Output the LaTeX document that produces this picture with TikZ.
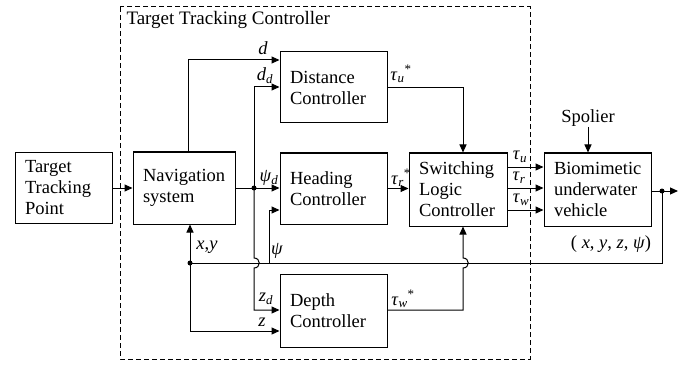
\documentclass[tikz,border=0pt]{standalone}
\usepackage{fontspec}
\setmainfont{Liberation Serif}
\usetikzlibrary{arrows.meta}
\newcommand\lsub[2]{\textit{#1}\textsubscript{\textit{#2}}}
\newcommand\lstar[2]{\textit{#1}\textsubscript{\textit{#2}}\textsuperscript{*}}
\begin{document}
\begin{tikzpicture}[x=1pt,y=-1pt,line width=1pt,
  font=\fontsize{18.5}{21}\selectfont,
  blk/.style={draw,rectangle,inner xsep=10pt,inner ysep=0pt,align=left},
  arr/.style={-{Triangle[length=8pt,width=7pt]}},
  dot/.style={circle,fill,inner sep=0pt,minimum size=5pt},
  lbl/.style={inner sep=0pt}]
\useasboundingbox (0,0) rectangle (692,366);
% frame
\draw[dashed,dash pattern=on 5pt off 3pt] (120,7) rectangle (530,359);
\node[lbl,anchor=west,font=\fontsize{19}{22}\selectfont] (title) at (126,20) {Target Tracking Controller};
% blocks
\node[blk,minimum width=97,minimum height=71,text width=77] (ttp) at (63.5,188) {Target\\Tracking\\Point};
\node[blk,minimum width=102,minimum height=72,text width=82] (nav) at (184,188) {Navigation\\system};
\node[blk,minimum width=107,minimum height=71,text width=87] (dist) at (333.5,87.5) {Distance\\Controller};
\node[blk,minimum width=107,minimum height=71,text width=87] (head) at (333.5,188.5) {Heading\\Controller};
\node[blk,minimum width=107,minimum height=73,text width=87] (depth) at (333.5,310.5) {Depth\\Controller};
\node[blk,minimum width=98,minimum height=73,text width=78] (sw) at (458,189.5) {Switching\\Logic\\Controller};
\node[blk,minimum width=107,minimum height=73,text width=87] (veh) at (597.5,189.5) {Biomimetic\\underwater\\vehicle};
\node[lbl] (sp) at (588,118) {Spolier};
% junctions
\coordinate (jn) at (254,188);
\coordinate (xy) at (190,263);
\coordinate (psi) at (269,263);
\coordinate (out) at (662,191);
\coordinate (fin) at (678,191);
% connectors
\draw[arr] (ttp) -- (nav);
\draw[arr] (nav.north -| 188,0) |- (dist.west |- 0,60);
\draw (nav.east) -- (jn);
\draw[arr] (jn) -- (head.west |- jn);
\draw[arr] (jn) |- (dist.west |- 0,87);
\draw[arr] (jn) -- (254,258) .. controls (261,258) and (261,268) .. (254,268) |- (depth.west |- 0,310);
\draw[arr] (psi) |- (head.west |- 0,210);
\draw[arr] (dist.east) -| (sw.north -| 463,0);
\draw[arr] (head.east) -- (sw.west |- head.east);
\draw[arr] (depth.east |- 0,310) -| (463,268) .. controls (470,268) and (470,258) .. (463,258) -- (sw.south -| 463,0);
\draw[arr] (sw.east |- 0,167) -- (veh.west |- 0,167);
\draw[arr] (sw.east |- 0,188) -- (veh.west |- 0,188);
\draw[arr] (sw.east |- 0,210) -- (veh.west |- 0,210);
\draw[arr] (sp.south) -- (sp.south |- veh.north);
\draw (veh.east |- out) -- (out);
\draw[arr] (out) -- (fin);
\draw (out) |- (xy);
\draw[arr] (xy) -- (nav.south -| xy);
\draw[arr] (xy) |- (depth.west |- 0,331);
\node[dot] at (jn) {};
\node[dot] at (xy) {};
\node[dot] at (out) {};
% labels
\node[lbl] at (263,48) {\textit{d}};
\node[lbl] at (265,76) {\lsub{d}{d}};
\node[lbl] at (269,178) {\lsub{ψ}{d}};
\node[lbl] at (277,251) {\textit{ψ}};
\node[lbl] at (207,247) {\textit{x},\textit{y}};
\node[lbl] at (266,299) {\lsub{z}{d}};
\node[lbl] at (262,322) {\textit{z}};
\node[lbl] at (401,74) {\lstar{τ}{u}};
\node[lbl] at (401,178) {\lstar{τ}{r}};
\node[lbl] at (403,299) {\lstar{τ}{w}};
\node[lbl] at (520,157) {\lsub{τ}{u}};
\node[lbl] at (519,178) {\lsub{τ}{r}};
\node[lbl] at (521,200) {\lsub{τ}{w}};
\node[lbl] at (611,244) {( \textit{x}, \textit{y}, \textit{z}, \textit{ψ})};
\end{tikzpicture}
\end{document}
